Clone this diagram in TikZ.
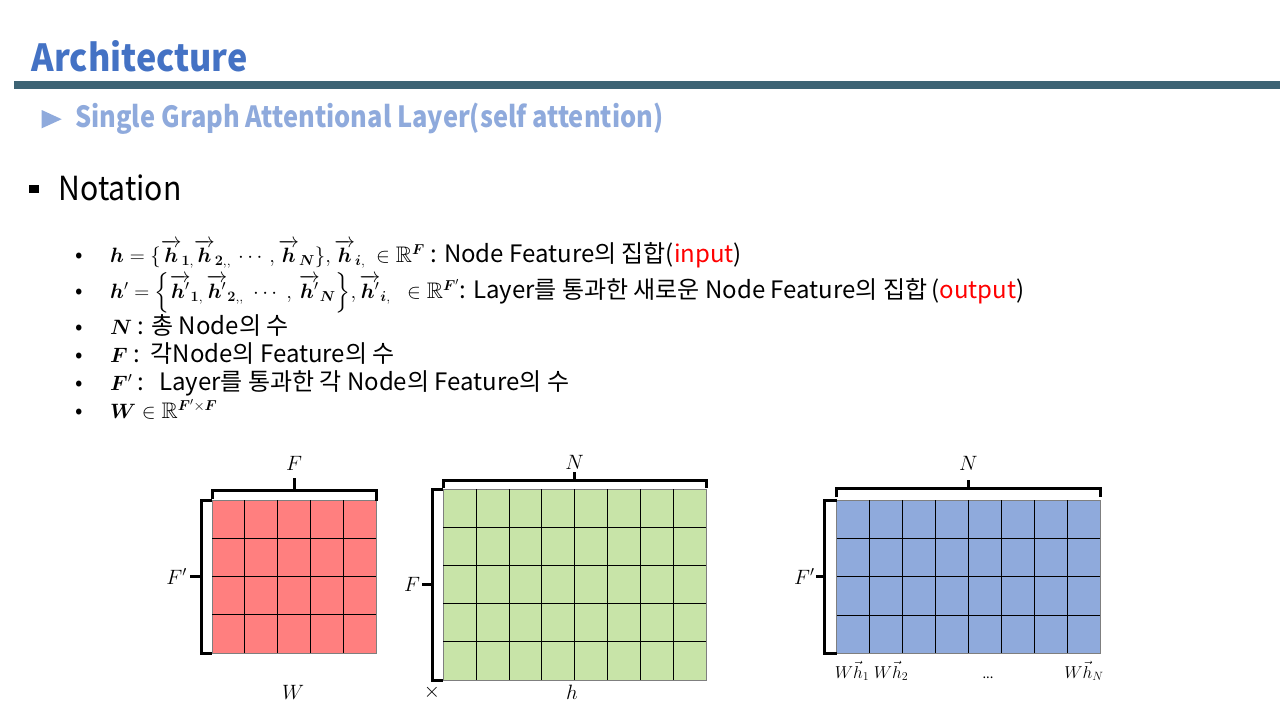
\documentclass[tikz,border=0pt]{standalone}
\usepackage{fontspec}
\usepackage{amsmath,amssymb,bm}
\usepackage{graphicx}
\usetikzlibrary{calc}
\setmainfont{Noto Sans CJK KR}

\definecolor{titleblue}{HTML}{4472C4}
\definecolor{subblue}{HTML}{8FAADC}
\definecolor{rulebar}{HTML}{3D6374}
\definecolor{cellred}{HTML}{FF7F7F}
\definecolor{cellgreen}{HTML}{C8E4A8}
\definecolor{cellblue}{HTML}{8FAADC}
\definecolor{edgegray}{HTML}{7F7F7F}

% math set slightly smaller than the surrounding Korean text
\newcommand{\mathpart}[1]{{\fontsize{22.5}{26}\selectfont$#1$}}

\begin{document}
\begin{tikzpicture}[x=1pt,y=-1pt,
  bodytext/.style={anchor=base west, inner sep=0pt, font=\fontsize{24}{28}\selectfont},
  bulletdot/.style={anchor=base, inner sep=0pt, font=\fontsize{22}{26}\selectfont},
  mlabel/.style={inner sep=0pt, font=\fontsize{22.5}{26}\selectfont},
  vlabel/.style={inner sep=0pt, font=\fontsize{16.5}{20}\selectfont},
  matcells/.style={draw=edgegray, line width=0.8pt, inner sep=0pt, outer sep=0pt},
  gridline/.style={black, line width=0.8pt},
  brkt/.style={black, line width=3pt, line cap=butt, line join=miter}]
\useasboundingbox (0,0) rectangle (1280,720);

% ---- header ----
\node[anchor=base west, inner sep=0pt, text=titleblue] (title) at (31.5,71.5)
  {\resizebox{216pt}{31pt}{\bfseries Architecture}};
\fill[rulebar] (14,81) rectangle (1280,89);
\fill[subblue] (41.7,110) -- (61.7,119.2) -- (41.7,128.3) -- cycle;
\node[anchor=base west, inner sep=0pt, text=subblue] (subtitle) at (75,127.7)
  {\resizebox{588pt}{24.5pt}{\bfseries Single Graph Attentional Layer(self attention)}};

% ---- notation heading ----
\fill[black] (29.3,185) rectangle (39.3,193.3);
\node[anchor=base west, inner sep=0pt] (notation) at (58.3,200.7)
  {\resizebox{123pt}{25.7pt}{Notation}};

% ---- bullet list ----
\foreach \yy in {262,298,334,362,390,418} \node[bulletdot] at (79,\yy) {•};

\node[bodytext] (l1) at (110,262)
  {\mathpart{\bm{h}=\{\overrightarrow{\bm{h}}_{\bm{1},}\overrightarrow{\bm{h}}_{\bm{2},,}\,\cdots\,,\overrightarrow{\bm{h}}_{\bm{N}}\},\overrightarrow{\bm{h}}_{\bm{i},}\ \in\mathbb{R}^{\bm{F}}} : Node Feature의 집합(\textcolor{red}{input})};
\node[bodytext] (l2) at (110,298)
  {\mathpart{\bm{h}'=\Big\{\overrightarrow{\bm{h}'}_{\bm{1},}\,\overrightarrow{\bm{h}'}_{\bm{2},,}\;\cdots\;,\,\overrightarrow{\bm{h}'}_{\bm{N}}\Big\},\overrightarrow{\bm{h}'}_{\bm{i},}\ \;\in\mathbb{R}^{\bm{F}'}}: Layer를 통과한 새로운 Node Feature의 집합\,(\textcolor{red}{output})};
\node[bodytext] (l3) at (110,334) {\mathpart{\bm{N}} : 총 Node의 수};
\node[bodytext] (l4) at (110,362) {\mathpart{\bm{F}} :\ \ 각Node의 Feature의 수};
\node[bodytext] (l5) at (110,390) {\mathpart{\bm{F}'} :\ \ \,Layer를 통과한 각 Node의 Feature의 수};
\node[bodytext] (l6) at (110,418) {\mathpart{\bm{W}\in\mathbb{R}^{\bm{F}'\times\bm{F}}}};

% ---- W : F' x F ----
\node[matcells, fill=cellred, minimum width=164pt, minimum height=153pt] (Wm) at (294,576.5) {};
\foreach \k in {1,...,4}
  \draw[gridline] ($(Wm.north west)+(\k*32.8,0)$) -- ($(Wm.south west)+(\k*32.8,0)$);
\foreach \k in {1,2,3}
  \draw[gridline] ($(Wm.north west)+(0,\k*38.25)$) -- ($(Wm.north east)+(0,\k*38.25)$);
\draw[brkt] ($(Wm.north west)+(0,-1.5)$) -- ($(Wm.north west)+(0,-10)$) -- ($(Wm.north east)+(0,-10)$) -- ($(Wm.north east)+(0,1)$);
\draw[brkt] ($(Wm.north)+(0,-10)$) -- ($(Wm.north)+(0,-22)$) coordinate (Wtop);
\draw[brkt] (Wm.north west) -- ($(Wm.north west)+(-11,0)$) -- ($(Wm.south west)+(-11,0)$) -- (Wm.south west);
\draw[brkt] ($(Wm.west)+(-11,0)$) -- ($(Wm.west)+(-22,0)$) coordinate (Wleft);
\node[mlabel] (WlblF) at ($(Wtop)+(0,-15)$) {$F$};
\node[mlabel, anchor=east] (WlblFp) at ($(Wleft)+(-3,0)$) {$F'$};
\node[mlabel] (Wname) at (293,692) {$W$};

% ---- h : F x N ----
\node[matcells, fill=cellgreen, minimum width=262.7pt, minimum height=190.7pt] (Hm) at (574.65,584.65) {};
\foreach \k in {1,...,7}
  \draw[gridline] ($(Hm.north west)+(\k*32.84,0)$) -- ($(Hm.south west)+(\k*32.84,0)$);
\foreach \k in {1,...,4}
  \draw[gridline] ($(Hm.north west)+(0,\k*38.14)$) -- ($(Hm.north east)+(0,\k*38.14)$);
\draw[brkt] ($(Hm.north west)+(0,-1)$) -- ($(Hm.north west)+(0,-9.3)$) -- ($(Hm.north east)+(0,-9.3)$) -- ($(Hm.north east)+(0,-1.5)$);
\draw[brkt] ($(Hm.north)+(0,-9.3)$) -- ($(Hm.north)+(0,-17)$) coordinate (Htop);
\draw[brkt] (Hm.north west) -- ($(Hm.north west)+(-11,0)$) -- ($(Hm.south west)+(-11,0)$) -- (Hm.south west);
\draw[brkt] ($(Hm.west)+(-11,0)$) -- ($(Hm.west)+(-21,0)$) coordinate (Hleft);
\node[mlabel] (HlblN) at ($(Htop)+(0,-10)$) {$N$};
\node[mlabel, anchor=east] (HlblF) at ($(Hleft)+(-2,0)$) {$F$};
\node[mlabel] (times) at (432,692) {$\times$};
\node[mlabel] (Hname) at (572,692) {$h$};

% ---- Wh : F' x N ----
\node[matcells, fill=cellblue, minimum width=263.3pt, minimum height=153.3pt] (Om) at (968.35,576.65) {};
\foreach \k in {1,...,7}
  \draw[gridline] ($(Om.north west)+(\k*32.91,0)$) -- ($(Om.south west)+(\k*32.91,0)$);
\foreach \k in {1,2,3}
  \draw[gridline] ($(Om.north west)+(0,\k*38.33)$) -- ($(Om.north east)+(0,\k*38.33)$);
\draw[brkt] ($(Om.north west)+(0,-3)$) -- ($(Om.north west)+(0,-11.7)$) -- ($(Om.north east)+(0,-11.7)$) -- ($(Om.north east)+(0,-3)$);
\draw[brkt] ($(Om.north)+(0,-11.7)$) -- ($(Om.north)+(0,-20)$) coordinate (Otop);
\draw[brkt] (Om.north west) -- ($(Om.north west)+(-12.5,0)$) -- ($(Om.south west)+(-12.5,0)$) -- (Om.south west);
\draw[brkt] ($(Om.west)+(-12.5,0)$) -- ($(Om.west)+(-21,0)$) coordinate (Oleft);
\node[mlabel] (OlblN) at ($(Otop)+(0,-17)$) {$N$};
\node[mlabel, anchor=east] (OlblFp) at ($(Oleft)+(-1,0)$) {$F'$};
\node[vlabel, anchor=base] (o1) at (852,678) {$W\vec{h}_1$};
\node[vlabel, anchor=base] (o2) at (891,678) {$W\vec{h}_2$};
\node[vlabel, anchor=base, font=\fontsize{13}{16}\selectfont] (odots) at (988,678) {...};
\node[vlabel, anchor=base] (oN) at (1084,678) {$W\vec{h}_N$};
\end{tikzpicture}
\end{document}
